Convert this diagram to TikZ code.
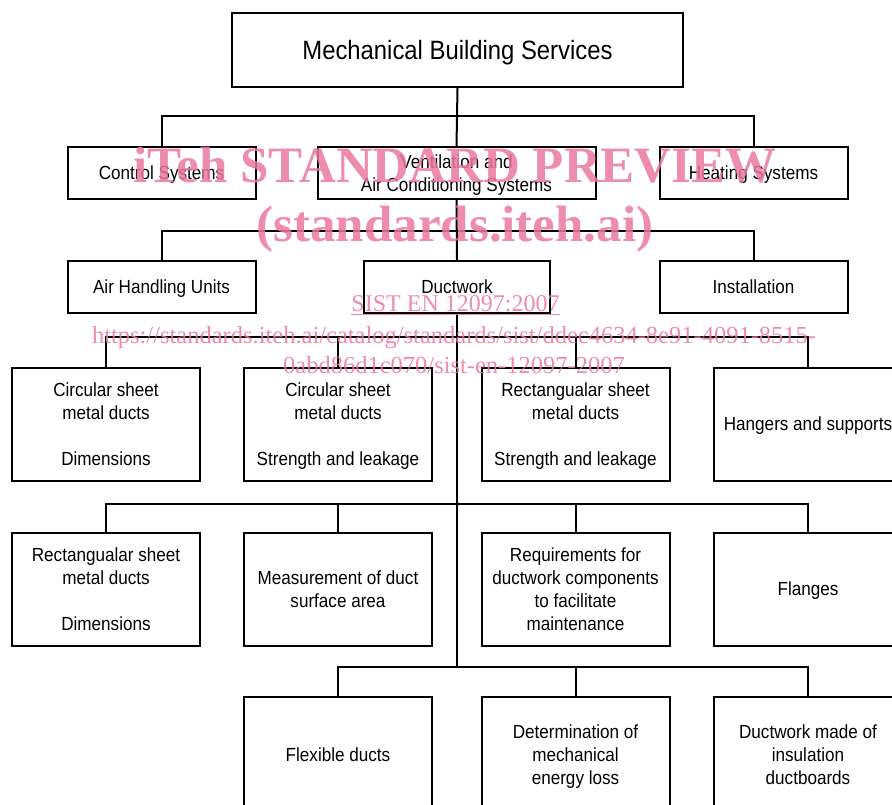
\documentclass[tikz,border=0pt]{standalone}
\usepackage{fontspec}
\setmainfont{Liberation Sans}[FakeStretch=0.9]
\newfontfamily\wmfont{Liberation Serif}
\usepackage{tikz}
\usepackage{xcolor}
\definecolor{wmpink}{RGB}{234,120,158}

\begin{document}
\begin{tikzpicture}[x=1pt,y=-1pt,line width=2pt,
        box/.style={draw,align=center,inner sep=0pt,text depth=0pt,minimum width=188,minimum height=52,font=\fontsize{19}{23}\selectfont},
        tallbox/.style={box,minimum height=113},
        wm/.style={text=wmpink,opacity=0.85,inner sep=0pt,anchor=base}]
    \useasboundingbox (0,0) rectangle (892,805);
    \node[box,minimum width=451,minimum height=74,font=\fontsize{26.5}{30}\selectfont] (mbs) at (457.5,50) {Mechanical Building Services};
    \node[box] (ctrl) at (161.5,173) {Control Systems};
    \node[box,minimum width=278] (vent) at (456.5,173) {Ventilation and\\Air Conditioning Systems};
    \node[box] (heat) at (753.5,173) {Heating Systems};
    \node[box] (ahu) at (161.5,287) {Air Handling Units};
    \node[box,minimum width=186] (duct) at (457,287) {Ductwork};
    \node[box] (inst) at (753.5,287) {Installation};
    \node[tallbox] (circdim) at (106,424) {Circular sheet\\metal ducts\\[23pt]Dimensions};
    \node[tallbox] (circleak) at (338,424) {Circular sheet\\metal ducts\\[23pt]Strength and leakage};
    \node[tallbox] (rectleak) at (575.5,424) {Rectangualar sheet\\metal ducts\\[23pt]Strength and leakage};
    \node[tallbox] (hang) at (808,424) {Hangers and supports};
    \node[tallbox] (rectdim) at (106,589) {Rectangualar sheet\\metal ducts\\[23pt]Dimensions};
    \node[tallbox] (area) at (338,589) {Measurement of duct\\surface area};
    \node[tallbox] (maint) at (575.5,589) {Requirements for\\ductwork components\\to facilitate\\maintenance};
    \node[tallbox] (flange) at (808,589) {Flanges};
    \node[tallbox,minimum height=116] (flex) at (338,755) {Flexible ducts};
    \node[tallbox,minimum height=116] (loss) at (575.5,755) {Determination of\\mechanical\\energy loss};
    \node[tallbox,minimum height=116] (board) at (808,755) {Ductwork made of\\insulation\\ductboards};
    \coordinate (trunk) at (457,668);
    \draw (mbs.south) -- (vent.north);
    \draw (ctrl.north) -- ++(0,-30) -| (heat.north);
    \draw (vent.south) -- (duct.north);
    \draw (ahu.north) -- ++(0,-29) -| (inst.north);
    \draw (duct.south) -- (trunk);
    \draw (circdim.north) -- ++(0,-30) -| (hang.north);
    \draw (circleak.north) -- ++(0,-30);
    \draw (rectleak.north) -- ++(0,-30);
    \draw (rectdim.north) -- ++(0,-28) -| (flange.north);
    \draw (area.north) -- ++(0,-28);
    \draw (maint.north) -- ++(0,-28);
    \draw (flex.north) -- ++(0,-29) -| (board.north);
    \draw (loss.north) -- ++(0,-29);
    \node[wm,font=\wmfont\bfseries\fontsize{51}{51}\selectfont] (wmtitle) at (455,183) {iTeh STANDARD PREVIEW};
    \node[wm,font=\wmfont\bfseries\fontsize{51}{51}\selectfont] (wmsite) at (455,242) {(standards.iteh.ai)};
    \node[wm,font=\wmfont\fontsize{24}{24}\selectfont] (wmstd) at (455.5,312) {\underline{SIST EN 12097:2007}};
    \node[wm,font=\wmfont\fontsize{24.5}{24.5}\selectfont] (wmurl) at (454,343) {https://standards.iteh.ai/catalog/standards/sist/ddec4634-8e91-4091-8515-};
    \node[wm,font=\wmfont\fontsize{24.5}{24.5}\selectfont] (wmurlb) at (454,373) {0abd86d1c070/sist-en-12097-2007};
\end{tikzpicture}
\end{document}
